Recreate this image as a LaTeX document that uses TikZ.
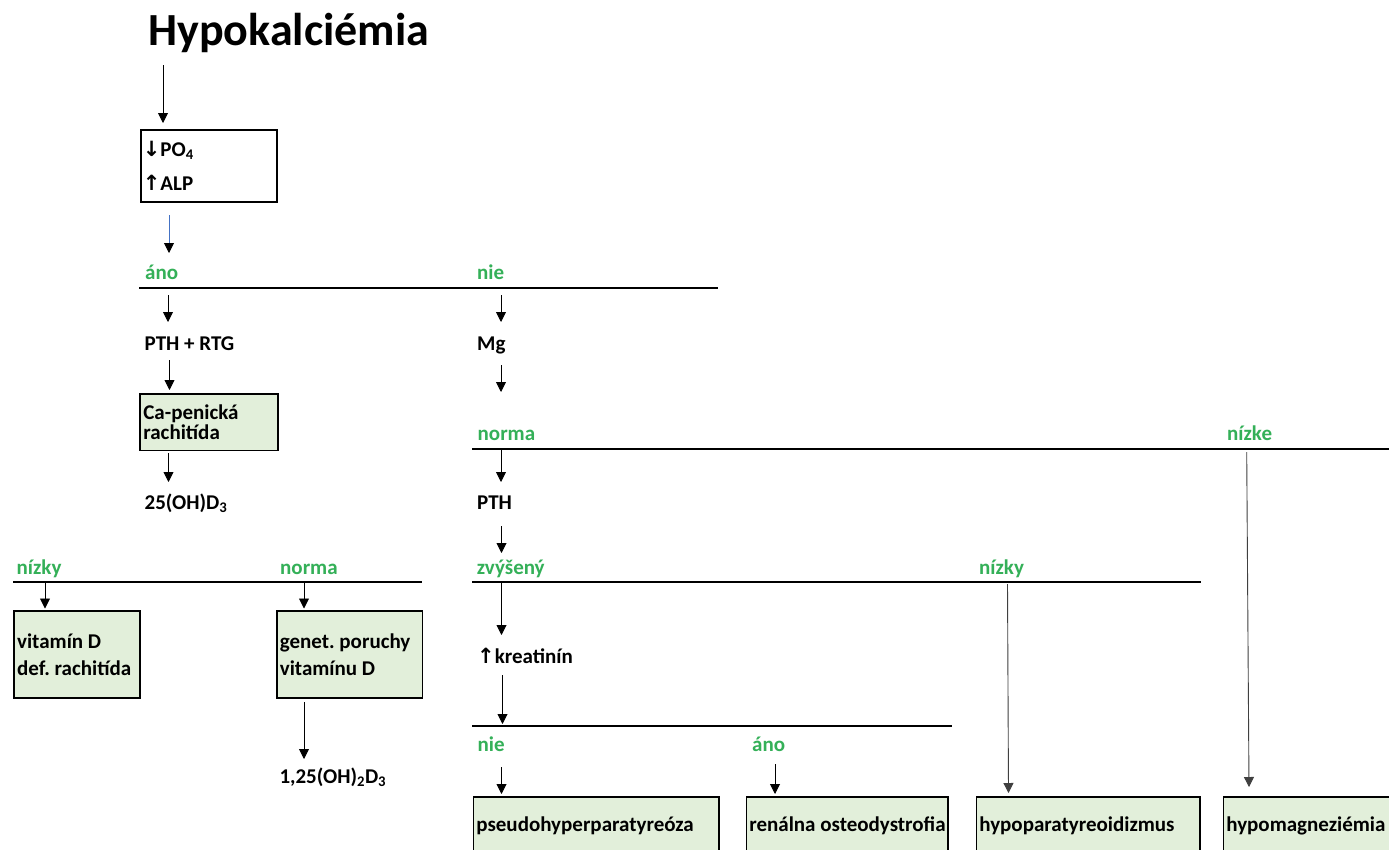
\documentclass[tikz,border=0pt]{standalone}
\usepackage{fontspec}
\setmainfont{Carlito}
\newfontfamily\arrfont{DejaVu Sans}
\usetikzlibrary{arrows.meta}
\definecolor{lblgreen}{RGB}{52,176,88}
\definecolor{boxfill}{RGB}{226,239,218}
\definecolor{arrblue}{RGB}{68,114,196}
\newcommand{\upar}{{\arrfont\bfseries\char"2191}}
\newcommand{\dnar}{{\arrfont\bfseries\char"2193}}
\frenchspacing
\begin{document}
\begin{tikzpicture}[x=1pt,y=-1pt,
  txt/.style={font=\bfseries\fontsize{21}{21}\selectfont, anchor=base west, inner sep=0pt},
  lbl/.style={txt, text=lblgreen},
  arr/.style={-{Triangle[width=10pt,length=10pt]}, line width=0.9pt},
  longarr/.style={arr, draw=black!75},
  splitline/.style={line width=2.2pt},
  greenbox/.style={draw, line width=1.7pt, fill=boxfill, anchor=north west,
    inner xsep=3pt, inner ysep=0pt, align=flush left,
    font=\bfseries\fontsize{21}{21}\selectfont},
  endbox/.style={greenbox, text height=35pt, text depth=40pt}]
\clip (0,0) rectangle (1389,849);
\fill[white] (0,0) rectangle (1389,849);

% title
\node[txt, font=\bfseries\fontsize{46}{46}\selectfont] (title) at (148,45) {Hypokalciémia};

% first box
\node[draw, line width=1.7pt, anchor=north west, minimum width=136pt, minimum height=72pt,
  inner xsep=2pt, text width=132pt, align=flush left, font=\bfseries\fontsize{21}{34}\selectfont] (labs) at (140,129)
  {\dnar PO\textsubscript{4}\\\upar ALP};

\coordinate (a1s) at (163,65); \coordinate (a1e) at (163,123);
\draw[arr] (a1s) -- (a1e);
\coordinate (a2s) at (169,215); \coordinate (a2e) at (169,253);
\draw[arrblue, line width=0.9pt, -{Triangle[width=10pt,length=10pt,color=black]}] (a2s) -- (a2e);

% split 1
\coordinate (s1l) at (139,288); \coordinate (s1r) at (718,288);
\draw[splitline] (s1l) -- (s1r);
\node[lbl] (ano1) at (145,279) {áno};
\node[lbl] (nie1) at (477,279) {nie};

% left column
\coordinate (b1s) at (168,295); \coordinate (b1e) at (168,322);
\draw[arr] (b1s) -- (b1e);
\node[txt] (pthrtg) at (144.5,350) {PTH + RTG};
\coordinate (b2s) at (169.5,360); \coordinate (b2e) at (169.5,390);
\draw[arr] (b2s) -- (b2e);
\node[greenbox, minimum width=138pt, text width=131pt, minimum height=56.5pt, inner xsep=3.5pt, font=\bfseries\fontsize{21}{20}\selectfont] (capen) at (139,393)
  {Ca-penická\\rachitída};
\coordinate (b3s) at (168.5,453); \coordinate (b3e) at (168.5,482);
\draw[arr] (b3s) -- (b3e);
\node[txt] (ohd3) at (144.5,509) {25(OH)D\textsubscript{3}};

% split left
\coordinate (s2l) at (13,582); \coordinate (s2r) at (422,582);
\draw[splitline] (s2l) -- (s2r);
\node[lbl] (nizky1) at (16.5,574.5) {nízky};
\node[lbl] (norma1) at (280,574.5) {norma};
\coordinate (c1s) at (45,583); \coordinate (c1e) at (45,608.5);
\draw[arr] (c1s) -- (c1e);
\coordinate (c2s) at (304,583); \coordinate (c2e) at (304,608.5);
\draw[arr] (c2s) -- (c2e);
\node[greenbox, minimum width=126pt, text width=120pt, minimum height=87pt, font=\bfseries\fontsize{21}{27}\selectfont] (vitd) at (13.3,610)
  {vitamín D\\def. rachitída};
\node[greenbox, minimum width=145.5pt, text width=139.5pt, minimum height=87pt, font=\bfseries\fontsize{21}{27}\selectfont] (genet) at (276,610)
  {genet. poruchy\\vitamínu D};
\coordinate (c3s) at (304,702); \coordinate (c3e) at (304,759);
\draw[arr] (c3s) -- (c3e);
\node[txt] (ohtwo) at (279.3,783.3) {1,25(OH)\textsubscript{2}D\textsubscript{3}};

% right column
\coordinate (d1s) at (501,295); \coordinate (d1e) at (501,322);
\draw[arr] (d1s) -- (d1e);
\node[txt] (mg) at (477,350) {Mg};
\coordinate (d2s) at (501,365); \coordinate (d2e) at (501,392);
\draw[arr] (d2s) -- (d2e);
\coordinate (s3l) at (472,449); \coordinate (s3r) at (1389,449);
\draw[splitline] (s3l) -- (s3r);
\node[lbl] (norma2) at (477.5,440.5) {norma};
\node[lbl] (nizke) at (1227,440.5) {nízke};
\coordinate (d3s) at (501,450); \coordinate (d3e) at (501,482);
\draw[arr] (d3s) -- (d3e);
\node[txt] (pth) at (477,509.3) {PTH};
\coordinate (d4s) at (501.5,526); \coordinate (d4e) at (501.5,553);
\draw[arr] (d4s) -- (d4e);
\coordinate (s4l) at (472,582); \coordinate (s4r) at (1201,582);
\draw[splitline] (s4l) -- (s4r);
\node[lbl] (zvyseny) at (476.6,574.5) {zvýšený};
\node[lbl] (nizky2) at (979,574.5) {nízky};
\coordinate (d5s) at (501.5,583); \coordinate (d5e) at (501.5,635);
\draw[arr] (d5s) -- (d5e);
\node[txt] (kreat) at (477,663.3) {\upar kreatinín};
\coordinate (d6s) at (502.5,675); \coordinate (d6e) at (502.5,724);
\draw[arr] (d6s) -- (d6e);
\coordinate (s5l) at (472,726); \coordinate (s5r) at (952,726);
\draw[splitline] (s5l) -- (s5r);
\node[lbl] (nie2) at (477.5,751) {nie};
\node[lbl] (ano2) at (752,751) {áno};
\coordinate (e1s) at (501.5,767); \coordinate (e1e) at (501.5,794);
\draw[arr] (e1s) -- (e1e);
\coordinate (e2s) at (775,764); \coordinate (e2e) at (775,794);
\draw[arr] (e2s) -- (e2e);
\coordinate (f1s) at (1007.5,584); \coordinate (f1e) at (1008.5,793);
\draw[longarr] (f1s) -- (f1e);
\coordinate (f2s) at (1246.7,452); \coordinate (f2e) at (1249,787);
\draw[longarr] (f2s) -- (f2e);

% end boxes
\node[endbox, minimum width=245.5pt, text width=239.5pt] (pseudo) at (472.5,796) {\mbox{pseudohyperparatyreóza}};
\node[endbox, minimum width=201.5pt, text width=195.5pt] (renal) at (745.5,796) {\mbox{renálna osteodystrofia}};
\node[endbox, minimum width=223.5pt, text width=217.5pt] (hypopara) at (975.5,796) {\mbox{hypoparatyreoidizmus}};
\node[endbox, minimum width=190pt, text width=184pt] (hypomg) at (1222.5,796) {\mbox{hypomagneziémia}};
\end{tikzpicture}
\end{document}
